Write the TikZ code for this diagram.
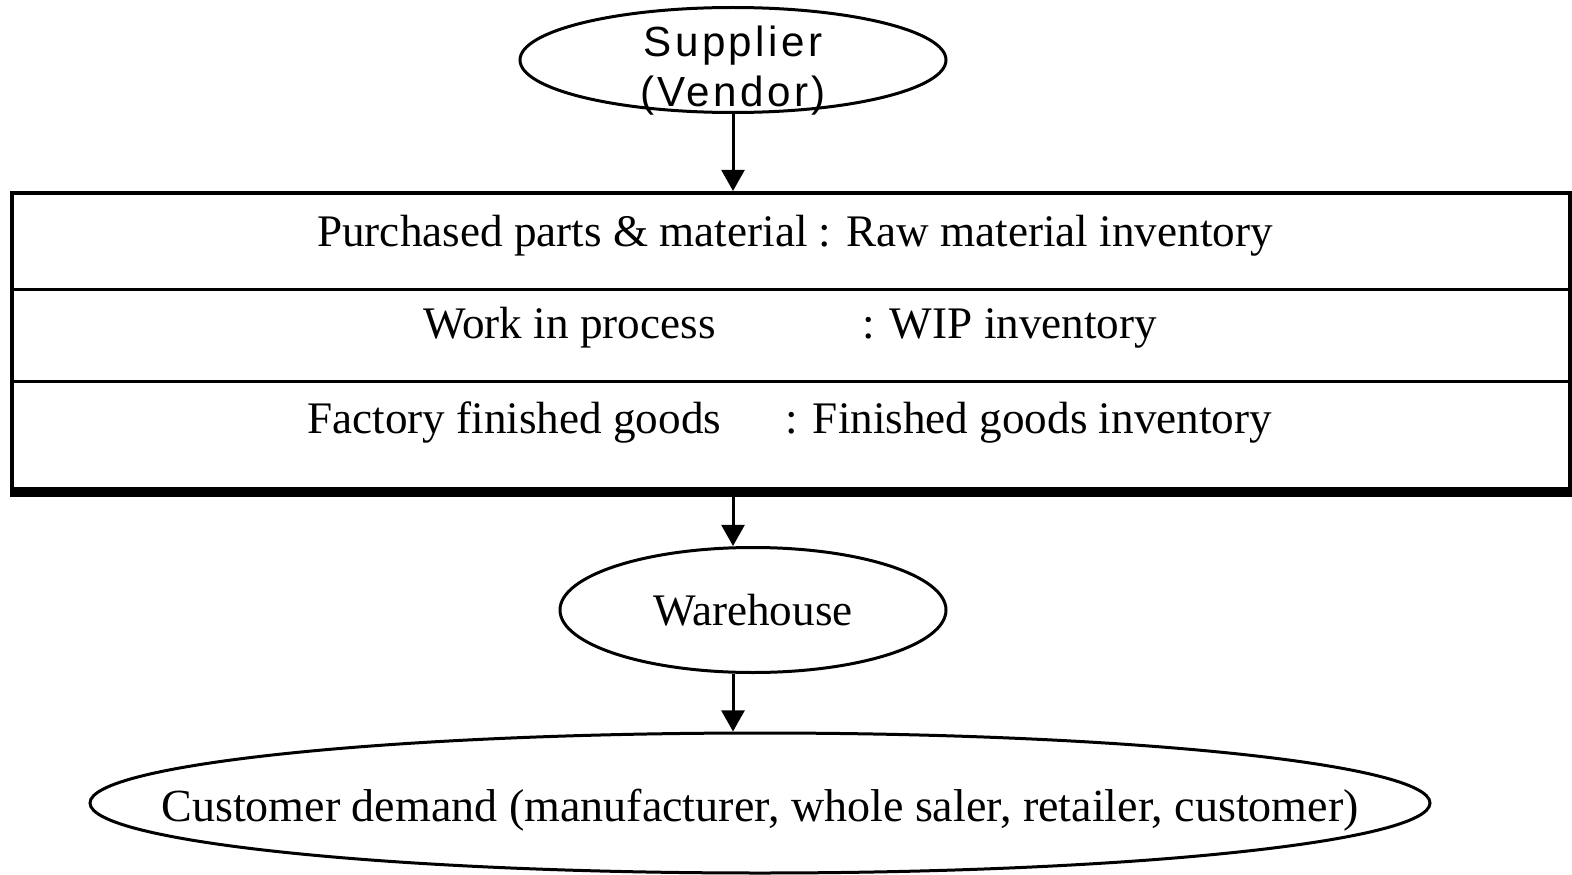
\documentclass[tikz,border=0pt]{standalone}
\usepackage{fontspec}
\setmainfont{Liberation Serif}
\setsansfont{Liberation Sans}
\usetikzlibrary{shapes.geometric,arrows.meta}
\newlength\px
\setlength\px{0.02cm}

\begin{document}
\begin{tikzpicture}[x=0.02cm,y=-0.02cm,
 oval/.style={ellipse,draw,line width=3\px,inner sep=0pt},
 flow/.style={line width=3\px,-{Triangle[width=13pt,length=12pt]}},
 rowtext/.style={inner sep=0pt,font=\fontsize{25.7pt}{30pt}\selectfont},
 divider/.style={line width=3\px}]
 \useasboundingbox (0,0) rectangle (1572,875);
 \node[oval,minimum width=426\px,minimum height=105\px,
  label={[align=center,yshift=-11\px,font=\sffamily\fontsize{24pt}{28.5pt}\selectfont\addfontfeature{LetterSpace=8}]center:Supplier\\(Vendor)}] (sup) at (733,60) {};
 % inventory box
 \node[draw,line width=4\px,minimum width=1558\px,minimum height=296\px,inner sep=0pt] (box) at (791,341) {};
 \coordinate (r1) at (0,289);
 \coordinate (r2) at (0,381);
 \draw[divider] (box.west |- r1) -- (box.east |- r1);
 \draw[divider] (box.west |- r2) -- (box.east |- r2);
 \draw[line width=8\px] ([shift={(0\px,-2\px)}]box.south west) -- ([shift={(2\px,-2\px)}]box.south east);
 \node[rowtext,anchor=base] (raw) at (795,246) {Purchased parts \& material : Raw material inventory};
 \node[rowtext,anchor=base west] (wip) at (423,338) {Work in process};
 \node[rowtext,anchor=base west] (wipinv) at (862,338) {: WIP inventory};
 \node[rowtext,anchor=base west] (fg) at (307,433) {Factory finished goods};
 \node[rowtext,anchor=base west] (fginv) at (785,433) {: Finished goods inventory};
 \node[oval,rowtext,minimum width=386\px,minimum height=125\px] (wh) at (753,610) {Warehouse};
 \node[oval,minimum width=1340\px,minimum height=140\px,
  label={[rowtext,font=\fontsize{26.2pt}{30pt}\selectfont,yshift=-7\px]center:{Customer demand (manufacturer, whole saler, retailer, customer)}}] (cust) at (760,803) {};
 \draw[flow] (sup.south) -- (sup.south |- box.north);
 \draw[flow] (sup.south |- box.south) -- (sup.south |- wh.north);
 \draw[flow] (sup.south |- wh.south) -- (sup.south |- cust.north);
\end{tikzpicture}
\end{document}
